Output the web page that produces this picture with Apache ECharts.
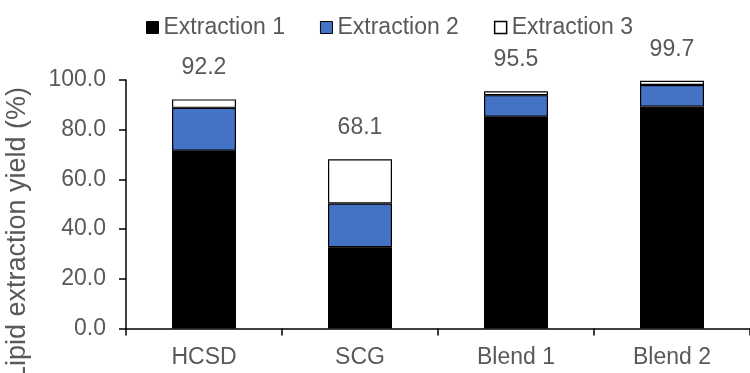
<!DOCTYPE html>
<html>
<head>
<meta charset="utf-8">
<script src="https://cdn.jsdelivr.net/npm/echarts@6/dist/echarts.min.js"></script>
<style>html,body{margin:0;padding:0;background:#fff}#c{width:750px;height:373px}</style>
</head>
<body>
<div id="c"></div>
<script>
var categories = ['HCSD', 'SCG', 'Blend 1', 'Blend 2'];
var seriesNames = ['Extraction 1', 'Extraction 2', 'Extraction 3'];
var extraction1 = [71.5, 32.7, 85.2, 89.3];
var extraction2 = [17.3, 17.6, 8.7, 8.7];
var extraction3 = [3.4, 17.8, 1.6, 1.7];
var totals = [92.2, 68.1, 95.5, 99.7];
var yTicks = [0, 20, 40, 60, 80, 100];
var yAxisTitle = 'Lipid extraction yield (%)';

var FONT = 'Liberation Sans, Arial, sans-serif';
var GREY = '#595959';
var chart = echarts.init(document.getElementById('c'));
function barSeries(name, data, color, withLabel) {
  var s = {
    name: name, type: 'bar', stack: 'total', data: data, barWidth: 64,
    itemStyle: { color: color, borderColor: '#000', borderWidth: 1.2 },
    emphasis: { disabled: true }, animation: false
  };
  if (withLabel) {
    s.label = {
      show: true, position: 'top', distance: 20,
      formatter: function (p) { return totals[p.dataIndex].toFixed(1); },
      fontFamily: FONT, fontSize: 23, color: GREY
    };
  }
  return s;
}
chart.setOption({
  animation: false,
  textStyle: { fontFamily: FONT },
  grid: { left: 126, top: 80, width: 636, bottom: 44.5, containLabel: false },
  legend: {
    top: 11, left: 141, itemWidth: 12, itemHeight: 12, itemGap: 35,
    textStyle: { fontFamily: FONT, fontSize: 23, color: GREY },
    data: [
      { name: seriesNames[0], icon: 'rect', itemStyle: { color: '#000', borderColor: '#000', borderWidth: 1 } },
      { name: seriesNames[1], icon: 'rect', itemStyle: { color: '#4472C4', borderColor: '#000', borderWidth: 1 } },
      { name: seriesNames[2], icon: 'rect', itemStyle: { color: '#fff', borderColor: '#000', borderWidth: 1.5 } }
    ]
  },
  xAxis: {
    type: 'category', data: categories,
    axisLine: { lineStyle: { color: '#000', width: 1.5 } },
    axisTick: { show: true, length: 7, lineStyle: { color: '#000', width: 1.5 } },
    axisLabel: { fontFamily: FONT, fontSize: 23, color: GREY, margin: 18 }
  },
  yAxis: {
    type: 'value', min: yTicks[0], max: yTicks[yTicks.length - 1], interval: 20,
    splitLine: { show: false },
    axisLine: { show: true, lineStyle: { color: '#000', width: 1.5 } },
    axisTick: { show: true, length: 7, lineStyle: { color: '#000', width: 1.5 } },
    axisLabel: { fontFamily: FONT, fontSize: 23, color: GREY, margin: 20,
      formatter: function (v) { return v.toFixed(1); } }
  },
  graphic: [{
    type: 'text', x: 18, y: 234, rotation: Math.PI / 2,
    style: { text: yAxisTitle, fontFamily: FONT, fontSize: 27, fill: GREY,
      align: 'center', verticalAlign: 'middle' }
  }],
  series: [
    barSeries(seriesNames[0], extraction1, '#000', false),
    barSeries(seriesNames[1], extraction2, '#4472C4', false),
    barSeries(seriesNames[2], extraction3, '#fff', true)
  ]
});
</script>
</body>
</html>
